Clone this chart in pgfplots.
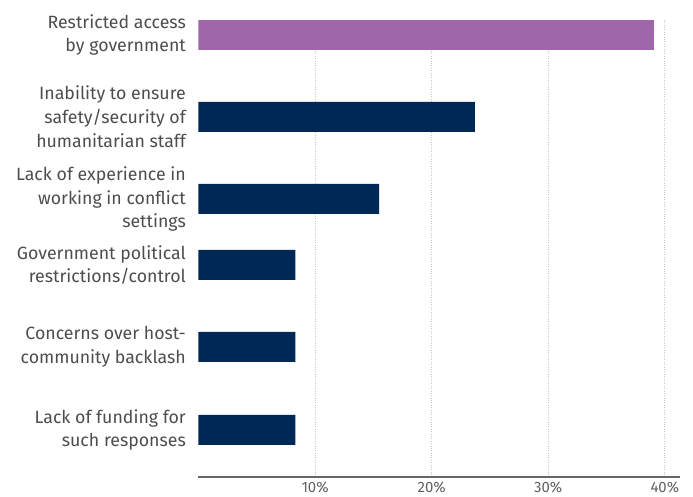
\documentclass[border=0pt]{standalone}
\usepackage{pgfplots}
\pgfplotsset{compat=1.18}
\usepackage{fontspec}
\setmainfont{Fira Sans}
\usetikzlibrary{calc}
\definecolor{navy}{HTML}{002856}
\definecolor{purp}{HTML}{A066AA}
\definecolor{txt}{HTML}{4D4D4D}
\begin{document}
\begin{tikzpicture}
\begin{axis}[
 scale only axis, width=481.5bp, height=458bp,
 xmin=0, xmax=41.3, ymin=0, ymax=458,
 xbar, bar width=30bp, bar shift=0pt,
 axis x line*=bottom, axis y line*=left,
 x axis line style={draw=black!60, line width=1.2bp, -},
 y axis line style={draw=none},
 xtick={10,20,30,40}, xticklabels={10\%,20\%,30\%,40\%},
 xmajorgrids, grid style={dotted, draw=black!22, line width=0.8bp},
 major tick length=0,
 ytick={47,130,212,278,360,442},
 yticklabels={{Lack of funding for\\such responses},{Concerns over host-\\community backlash},{Government political\\restrictions/control},{Lack of experience in\\working in conflict\\settings},{Inability to ensure\\safety/security of\\humanitarian staff},{Restricted access\\by government}},
 yticklabel style={align=right, font=\fontsize{17.8}{24}\selectfont, text=txt, inner sep=0pt, xshift=-12.5bp},
 xticklabel style={font=\fontsize{15}{16}\selectfont, text=black!62, inner sep=0pt, yshift=-5bp},
]
\addplot[fill=navy, draw=none] coordinates {(8.3,47) (8.3,130) (8.3,212) (15.5,278) (23.7,360)};
\addplot[fill=purp, draw=none] coordinates {(39.1,442)};
\end{axis}
\pgfresetboundingbox
\path[use as bounding box] ($(current axis.south west)+(-198.5bp,-20bp)$) rectangle ++(693bp,497bp);
\end{tikzpicture}
\end{document}
